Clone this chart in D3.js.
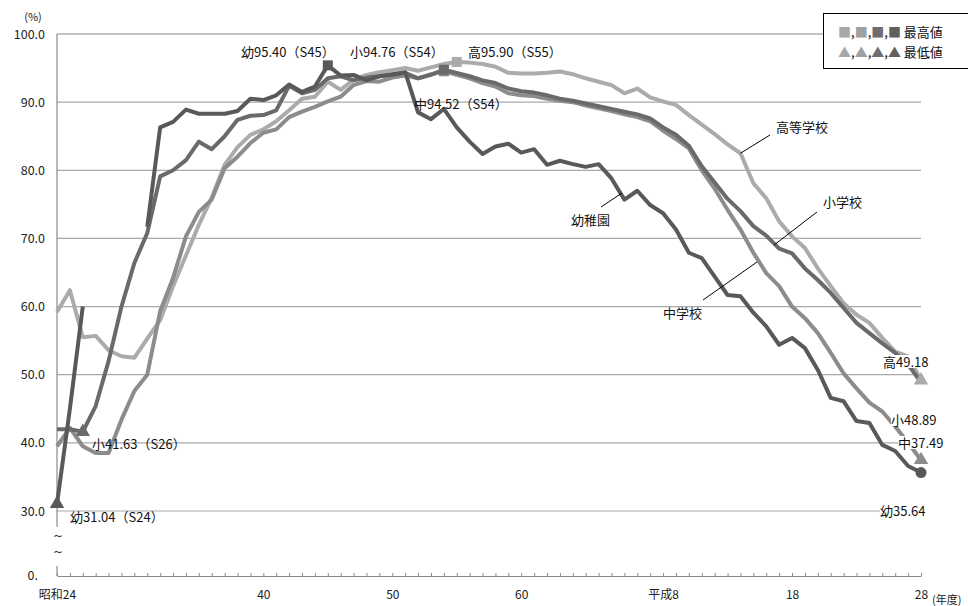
<!DOCTYPE html>
<html><head><meta charset="utf-8">
<script src="https://cdn.jsdelivr.net/npm/d3@7"></script>
<style>body{margin:0;background:#fff}svg{display:block}text{font-family:"Noto Sans CJK JP","Noto Sans",sans-serif}</style>
</head><body><svg id="c" width="968" height="606"></svg>
<script>
// fiscal years 昭和24 (1949) .. 平成28 (2016)
const years = d3.range(1949, 2017);
const tickYears = [1949, 1965, 1975, 1985, 1996, 2006, 2016];
const tickLabels = ["昭和24", "40", "50", "60", "平成8", "18", "28"];
const yTicks = [30, 40, 50, 60, 70, 80, 90, 100];

const kinder = [31.04,45.0,60.0,null,null,null,null,71.7,86.3,87.1,
 88.9,88.3,88.3,88.3,88.7,90.5,90.3,91.0,92.6,91.5,
 92.3,95.40,93.9,94.0,93.2,93.8,94.1,94.4,88.5,87.5,
 89.0,86.3,84.2,82.4,83.5,83.9,82.6,83.1,80.8,81.4,
 80.9,80.5,80.9,78.8,75.7,77.0,74.9,73.7,71.3,67.9,
 67.1,64.4,61.7,61.5,59.1,57.1,54.4,55.4,53.9,50.7,
 46.6,46.1,43.2,42.9,39.7,38.8,36.6,35.64];
const elem = [42.0,42.0,41.63,45.4,52.0,60.0,66.4,70.8,79.1,80.0,
 81.5,84.2,83.1,85.0,87.4,88.0,88.1,88.8,92.4,91.3,
 91.8,93.5,93.8,93.2,93.6,93.8,94.0,94.3,93.5,94.0,
 94.76,94.3,93.8,93.2,92.8,92.0,91.6,91.4,91.0,90.5,
 90.2,89.8,89.4,89.0,88.6,88.2,87.6,86.3,85.2,83.6,
 80.6,78.2,75.8,74.0,71.8,70.4,68.5,67.8,65.6,63.9,
 62.0,59.8,57.6,56.1,54.6,53.2,51.5,48.89];
const junior = [39.5,42.2,39.5,38.5,38.5,43.4,47.6,50.0,59.3,64.2,
 70.3,73.9,75.7,80.3,82.0,84.0,85.5,86.0,87.8,88.6,
 89.3,90.1,90.8,92.5,93.1,93.0,93.6,93.9,93.5,94.1,
 94.52,94.0,93.5,92.8,92.3,91.3,91.0,90.9,90.5,90.2,
 90.0,89.5,89.1,88.7,88.2,87.8,87.2,85.8,84.6,83.2,
 80.0,77.3,74.2,71.3,67.9,64.9,63.0,60.0,58.3,56.1,
 53.2,50.2,48.0,45.9,44.6,42.4,40.0,37.49];
const high = [59.2,62.4,55.5,55.7,53.6,52.7,52.5,55.3,58.0,63.0,
 67.5,72.0,76.0,80.8,83.4,85.2,86.0,87.2,88.8,90.5,
 90.8,93.0,91.8,93.3,94.0,94.4,94.7,95.0,94.6,95.1,
 95.6,95.90,95.8,95.6,95.2,94.3,94.2,94.2,94.3,94.5,
 94.1,93.5,93.0,92.5,91.3,92.0,90.7,90.1,89.6,88.1,
 86.7,85.3,83.8,82.5,78.1,75.9,72.5,70.3,68.6,65.6,
 63.0,60.5,58.8,57.6,55.4,53.4,52.7,49.18];

const colors = {high:"#ababab", junior:"#8c8c8c", elem:"#6a6a6a", kinder:"#595959"};

const svg = d3.select("#c");
const x = d3.scaleLinear().domain([1949, 2016]).range([57, 921]);
const y = d3.scaleLinear().domain([30, 100]).range([511, 34]);
const axisY = 576;

// gridlines
svg.append("g").selectAll("line").data(yTicks.filter(v => v < 100)).join("line")
  .attr("x1", x(1949)).attr("x2", x(2016)).attr("y1", d => y(d)).attr("y2", d => y(d))
  .attr("stroke", "#a9a9a9").attr("stroke-width", 1.2);
// top border
svg.append("line").attr("x1", x(1949)).attr("x2", 823).attr("y1", y(100)).attr("y2", y(100))
  .attr("stroke", "#8a8a8a").attr("stroke-width", 1.2);
// left axis with break
svg.append("line").attr("x1", x(1949)).attr("x2", x(1949)).attr("y1", y(100)).attr("y2", 527)
  .attr("stroke", "#8a8a8a").attr("stroke-width", 1.2);
svg.append("line").attr("x1", x(1949)).attr("x2", x(1949)).attr("y1", 566).attr("y2", axisY)
  .attr("stroke", "#8a8a8a").attr("stroke-width", 1.2);
[540, 556].forEach(ty => {
  svg.append("text").attr("x", x(1949) + 1).attr("y", ty).attr("text-anchor", "middle")
    .attr("font-size", 12).style("font-family", '"DejaVu Sans",sans-serif').attr("fill", "#333").text("~");
});

// y axis labels
const yAxis = d3.axisLeft(y).tickValues(yTicks).tickSize(0).tickPadding(12).tickFormat(d3.format(".1f"));
const gy = svg.append("g").attr("transform", `translate(${x(1949)},0)`).call(yAxis);
gy.select(".domain").remove();
gy.selectAll("text").attr("font-size", 12.5).attr("fill", "#222").style("font-family", '"Noto Sans CJK JP",sans-serif');
svg.append("text").attr("x", 38).attr("y", axisY + 4).attr("text-anchor", "end").attr("font-size", 12.5).attr("fill", "#222").text("0.");
svg.append("text").attr("x", 33).attr("y", 21).attr("text-anchor", "middle").attr("font-size", 11).attr("fill", "#222").text("(%)");

// x axis
const xAxis = d3.axisBottom(x).tickValues(years).tickSizeInner(-3).tickSizeOuter(0)
  .tickPadding(14).tickFormat(d => { const i = tickYears.indexOf(d); return i >= 0 ? tickLabels[i] : ""; });
const gx = svg.append("g").attr("transform", `translate(0,${axisY})`).call(xAxis);
gx.select(".domain").attr("stroke", "#8a8a8a").attr("stroke-width", 1.2);
gx.selectAll(".tick line").attr("stroke", "#8a8a8a");
gx.selectAll("text").attr("font-size", 12).attr("fill", "#222").style("font-family", '"Noto Sans CJK JP",sans-serif');
svg.append("text").attr("x", 932).attr("y", 604).attr("font-size", 11).attr("fill", "#222").text("(年度)");

// lines
const line = d3.line().defined(d => d[1] != null).x(d => x(d[0])).y(d => y(d[1]));
const series = [["high", high], ["junior", junior], ["elem", elem], ["kinder", kinder]];
series.forEach(([k, vals]) => {
  svg.append("path").datum(years.map((yr, i) => [yr, vals[i]]))
    .attr("d", line).attr("fill", "none").attr("stroke", colors[k])
    .attr("stroke-width", 4).attr("stroke-linejoin", "round");
});

// markers
const sq = d3.symbol().type(d3.symbolSquare).size(100);
const tri = d3.symbol().type(d3.symbolTriangle).size(90);
function mark(sym, yr, vals, col) {
  const i = years.indexOf(yr);
  svg.append("path").attr("d", sym()).attr("fill", col)
    .attr("transform", `translate(${x(yr)},${y(vals[i])})`);
}
mark(sq, 1970, kinder, colors.kinder);
mark(sq, 1979, junior, colors.junior);
mark(sq, 1979, elem, colors.elem);
mark(sq, 1980, high, colors.high);
mark(tri, 1949, kinder, colors.kinder);
mark(tri, 1951, elem, colors.elem);
mark(tri, 2016, junior, colors.junior);
mark(tri, 2016, high, colors.high);
svg.append("circle").attr("cx", x(2016)).attr("cy", y(kinder[67])).attr("r", 5.5).attr("fill", colors.kinder);

// data labels
function label(txt, lx, ly, bg) {
  const t = svg.append("text").attr("x", lx).attr("y", ly).attr("font-size", 13).attr("fill", "#111").text(txt);
  if (bg) {
    const b = t.node().getBBox();
    svg.insert("rect", () => t.node()).attr("x", b.x).attr("y", b.y + 3).attr("width", b.width).attr("height", b.height - 6).attr("fill", "#fff");
  }
}
label("幼95.40（S45）", 241, 57, false);
label("小94.76（S54）", 350, 57, false);
label("高95.90（S55）", 468, 57, false);
label("中94.52（S54）", 414, 109, false);
label("小41.63（S26）", 92, 449, false);
label("幼31.04（S24）", 70, 522, false);
label("高49.18", 883, 367, true);
label("小48.89", 891, 425, true);
label("中37.49", 898, 448, true);
label("幼35.64", 880, 516, true);

// series names with leader lines
function name(txt, tx, ty, x1, y1, x2, y2) {
  svg.append("line").attr("x1", x1).attr("y1", y1).attr("x2", x2).attr("y2", y2).attr("stroke", "#000").attr("stroke-width", 1);
  svg.append("text").attr("x", tx).attr("y", ty).attr("font-size", 13).attr("fill", "#111").text(txt);
}
name("高等学校", 776, 132, 770, 135, x(2002), y(high[53]));
name("小学校", 823, 207, 817, 212, 774, 245);
name("中学校", 663, 318, 703, 300, 757, 262);
name("幼稚園", 571, 225, 601, 207, 622, 193);

// legend
svg.append("rect").attr("x", 823.5).attr("y", 13.5).attr("width", 150).attr("height", 55).attr("fill", "#fff").attr("stroke", "#000").attr("stroke-width", 1);
const legCols = ["#a8a8a8", "#a0a0a0", "#6e6e6e", "#5f5f5f"];
function legendRow(ch, word, ly) {
  const t = svg.append("text").attr("x", 838).attr("y", ly).attr("font-size", 13).attr("fill", "#111");
  legCols.forEach((c, i) => {
    t.append("tspan").attr("fill", c).text(ch);
    if (i < 3) t.append("tspan").attr("fill", "#111").text(",");
  });
  t.append("tspan").attr("fill", "#111").text(" " + word);
}
legendRow("■", "最高値", 37);
legendRow("▲", "最低値", 57);
</script></body></html>
